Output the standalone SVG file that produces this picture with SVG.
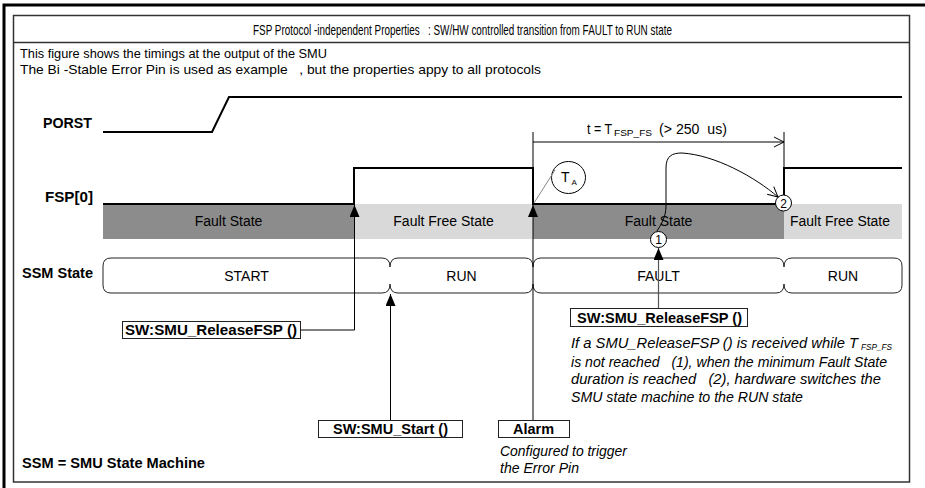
<svg xmlns="http://www.w3.org/2000/svg" width="925" height="488" viewBox="0 0 925 488">
<style>
text{font-family:"Liberation Sans",Arial,sans-serif;fill:#000;white-space:pre}
.t12{font-size:13.5px}
.t14{font-size:14px}
.b{font-weight:bold}
.i{font-style:italic}
.m{text-anchor:middle}
.sig{fill:none;stroke:#000;stroke-width:2}
.thin{fill:none;stroke:#000;stroke-width:1}
.box{fill:#fff;stroke:#222;stroke-width:1}
.ssm{fill:none;stroke:#222;stroke-width:1}
</style>
<defs>
<marker id="fa" markerUnits="userSpaceOnUse" markerWidth="12" markerHeight="10" viewBox="0 0 12 10" refX="12" refY="5" orient="auto"><path d="M0,0 L12,5 L0,10 z" fill="#000"/></marker>
<marker id="oa" markerUnits="userSpaceOnUse" markerWidth="12" markerHeight="12" viewBox="0 0 12 12" refX="11" refY="6" orient="auto"><path d="M1,1 L11,6 L1,11" fill="none" stroke="#000" stroke-width="1"/></marker>
</defs>
<rect width="925" height="488" fill="#fff"/>
<path d="M4,488 V5 H925" fill="none" stroke="#000" stroke-width="3"/>
<g id="frame">
<rect x="13.5" y="15.5" width="896" height="466.5" fill="none" stroke="#333" stroke-width="1.5"/>
<line x1="13.5" y1="42.5" x2="909.5" y2="42.5" stroke="#333" stroke-width="1.5"/>
<text x="462.5" y="34.5" class="m" font-size="15" textLength="419" lengthAdjust="spacingAndGlyphs">FSP Protocol -independent Properties   : SW/HW controlled transition from FAULT to RUN state</text>
<text class="t12" x="20" y="57.5" textLength="307" lengthAdjust="spacingAndGlyphs">This figure shows the timings at the output of the SMU</text>
<text class="t12" x="20" y="73.5" textLength="521" lengthAdjust="spacingAndGlyphs">The Bi -Stable Error Pin is used as example   , but the properties appy to all protocols</text>
</g>
<g id="labels">
<text class="t14 b" x="43" y="128" textLength="49" lengthAdjust="spacingAndGlyphs">PORST</text>
<text class="t14 b" x="45" y="202" textLength="48" lengthAdjust="spacingAndGlyphs">FSP[0]</text>
<text class="t14 b" x="22" y="278" textLength="71" lengthAdjust="spacingAndGlyphs">SSM State</text>
<text class="t14 b" x="22" y="468" textLength="183" lengthAdjust="spacingAndGlyphs">SSM = SMU State Machine</text>
</g>
<g id="fault-bars">
<rect x="103" y="204" width="251" height="35" fill="#8c8c8c"/>
<rect x="354" y="204" width="179" height="35" fill="#d9d9d9"/>
<rect x="533" y="204" width="251" height="35" fill="#8c8c8c"/>
<rect x="784" y="204" width="118" height="35" fill="#d9d9d9"/>
<text class="t14 m" x="228.5" y="226">Fault State</text>
<text class="t14 m" x="443.5" y="226">Fault Free State</text>
<text class="t14 m" x="658.5" y="226">Fault State</text>
<text class="t14 m" x="840" y="226" textLength="100" lengthAdjust="spacingAndGlyphs">Fault Free State</text>
</g>
<g id="porst">
<polyline class="sig" points="103,132 212,132 229,97 902,97"/>
</g>
<g id="fsp0">
<polyline class="sig" points="103,204 354,204 354,168 533,168 533,204 784,204 784,168 902,168"/>
</g>
<g id="ssm-start">
<path class="ssm" d="M382,258 H111 Q103,258 103,266 V285 Q103,293 111,293 H382 M382,258 Q390,258 390,267 M382,293 Q390,293 390,284"/>
<text class="t14 m" x="246.5" y="281">START</text>
</g>
<g id="ssm-run1">
<path class="ssm" d="M390,267 Q390,258 398,258 H525 Q533,258 533,267 M390,284 Q390,293 398,293 H525 Q533,293 533,284"/>
<text class="t14 m" x="461.5" y="281">RUN</text>
</g>
<g id="ssm-fault">
<path class="ssm" d="M533,267 Q533,258 541,258 H776 Q784,258 784,267 M533,284 Q533,293 541,293 H776 Q784,293 784,284"/>
<text class="t14 m" x="658.5" y="281">FAULT</text>
</g>
<g id="ssm-run2">
<path class="ssm" d="M784,267 Q784,258 792,258 H894 Q902,258 902,266 V285 Q902,293 894,293 H792 Q784,293 784,284"/>
<text class="t14 m" x="843" y="281">RUN</text>
</g>
<g id="release1">
<rect class="box" x="122.5" y="321.5" width="178" height="17"/>
<text class="t14 b" x="125" y="335" textLength="172" lengthAdjust="spacingAndGlyphs">SW:SMU_ReleaseFSP ()</text>
</g>
<g id="start-call">
<rect class="box" x="318.5" y="420.5" width="144" height="17"/>
<text class="t14 b" x="333" y="434" textLength="115" lengthAdjust="spacingAndGlyphs">SW:SMU_Start ()</text>
</g>
<g id="alarm">
<rect class="box" x="498.5" y="420.5" width="71" height="17"/>
<text class="t14 b" x="513" y="434" textLength="41" lengthAdjust="spacingAndGlyphs">Alarm</text>
<text class="t14 i" x="500" y="456" textLength="127" lengthAdjust="spacingAndGlyphs">Configured to trigger</text>
<text class="t14 i" x="500" y="473" textLength="79" lengthAdjust="spacingAndGlyphs">the Error Pin</text>
</g>
<g id="release2">
<rect class="box" x="570.5" y="308.5" width="177" height="18"/>
<text class="t14 b" x="577" y="322.5" textLength="165" lengthAdjust="spacingAndGlyphs">SW:SMU_ReleaseFSP ()</text>
<text class="t14 i" x="571" y="348" textLength="287" lengthAdjust="spacingAndGlyphs">If a SMU_ReleaseFSP () is received while T</text>
<text class="i" x="861" y="350" font-size="9" textLength="31" lengthAdjust="spacingAndGlyphs">FSP_FS</text>
<text class="t14 i" x="571" y="366.5" textLength="316" lengthAdjust="spacingAndGlyphs">is not reached   (1), when the minimum Fault State</text>
<text class="t14 i" x="571" y="384" textLength="310" lengthAdjust="spacingAndGlyphs">duration is reached   (2), hardware switches the</text>
<text class="t14 i" x="571" y="401.5" textLength="232" lengthAdjust="spacingAndGlyphs">SMU state machine to the RUN state</text>
</g>
<g id="ta">
<ellipse cx="568.5" cy="177.5" rx="17" ry="16" fill="#fff" stroke="#000" stroke-width="1"/>
<text class="t14" x="561" y="182">T</text>
<text x="571.5" y="185" font-size="8">A</text>
</g>
<g id="marker1">
<circle cx="658.5" cy="239.5" r="8" fill="#fff" stroke="#000" stroke-width="1"/>
<text class="m" x="658.5" y="244" font-size="12">1</text>
</g>
<g id="marker2">
<circle cx="783.5" cy="203" r="8" fill="#fff" stroke="#000" stroke-width="1"/>
<text class="m" x="783.5" y="207.5" font-size="12">2</text>
</g>
<g id="duration">
<text class="t14" x="587" y="134" textLength="25" lengthAdjust="spacingAndGlyphs">t = T</text>
<text x="614" y="136" font-size="9" textLength="38" lengthAdjust="spacingAndGlyphs">FSP_FS</text>
<text class="t14" x="659" y="134" textLength="68" lengthAdjust="spacingAndGlyphs">(&gt; 250  us)</text>
</g>
<g id="connectors">
<line class="thin" x1="533" y1="132" x2="533" y2="168"/>
<line class="thin" x1="784" y1="132" x2="784" y2="168"/>
<line class="thin" x1="533" y1="142" x2="784" y2="142" marker-end="url(#oa)"/>
<line x1="534" y1="203" x2="555" y2="170" stroke="#888" stroke-width="1"/>
<polyline class="thin" points="300.5,330 354.5,330 354.5,205" marker-end="url(#fa)"/>
<line class="thin" x1="390.5" y1="420" x2="390.5" y2="294" marker-end="url(#fa)"/>
<line class="thin" x1="533" y1="420" x2="533" y2="205" marker-end="url(#fa)"/>
<line x1="658.5" y1="308" x2="658.5" y2="248" stroke="#555" stroke-width="1.2" marker-end="url(#fa)"/>
<path class="thin" d="M657,231 C660,226 666,218 666,206 L666,168 C666,156 672,153 682,153 C715,155 755,177 778,197" marker-end="url(#oa)"/>
</g>
</svg>
